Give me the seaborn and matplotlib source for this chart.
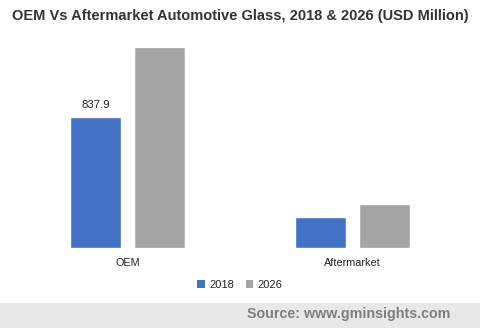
import matplotlib
matplotlib.use("Agg")
import matplotlib.pyplot as plt
import seaborn as sns
import pandas as pd
from matplotlib.patches import Rectangle, Patch

categories = ["OEM", "Aftermarket"]
years = ["2018", "2026"]
values_2018 = [837.9, 198.0]
values_2026 = [1285.0, 281.0]
colors = ["#4472C4", "#A5A5A5"]

df = pd.DataFrame({
    "segment": categories * 2,
    "year": [years[0]] * 2 + [years[1]] * 2,
    "value": values_2018 + values_2026,
})

sns.set_theme(style="white")
plt.rcParams["font.family"] = ["Liberation Sans", "DejaVu Sans"]

fig = plt.figure(figsize=(4.8, 3.28), dpi=100)
fig.patch.set_facecolor("white")
ax = fig.add_axes([15 / 480, 1 - 248 / 328, 450 / 480, 208 / 328])
sns.barplot(data=df, x="segment", y="value", hue="year", order=categories,
            hue_order=years, palette=colors, width=0.569, gap=0.203,
            saturation=1, ax=ax, legend=False, errorbar=None)
ax.set_xlim(-0.5, 1.5)
ax.set_ylim(0, 1330)
ax.set_xlabel("")
ax.set_ylabel("")
ax.set_yticks([])
ax.tick_params(axis="x", length=0, labelsize=7.8, colors="#222222", pad=7)
for s in ax.spines.values():
    s.set_visible(False)

# data label on first bar
bar0 = ax.containers[0]
ax.bar_label(bar0, labels=[f"{values_2018[0]:.1f}", ""], padding=5,
             fontsize=8.2, color="#222222")

fig.text(0.5, 1 - 16 / 328, "OEM Vs Aftermarket Automotive Glass, 2018 & 2026 (USD Million)",
         ha="center", va="center", fontsize=10.5, fontweight="bold", color="#333333")

handles = [Patch(facecolor=c, edgecolor="none") for c in colors]
fig.legend(handles, years, loc="center", bbox_to_anchor=(0.5, 1 - 285 / 328),
           ncol=2, frameon=False, fontsize=8, handlelength=0.7, handleheight=0.7,
           handletextpad=0.4, columnspacing=1.0, labelcolor="#222222")

fig.add_artist(Rectangle((0, 0), 1, 25 / 328, transform=fig.transFigure,
                         facecolor="#E8E8E8", edgecolor="none", zorder=0))
fig.text(450 / 480, 1 - 314 / 328, "Source: www.gminsights.com", ha="right", va="center",
         fontsize=10.3, fontweight="bold", color="#7F7F7F")

fig.savefig("out.png", dpi=100)
